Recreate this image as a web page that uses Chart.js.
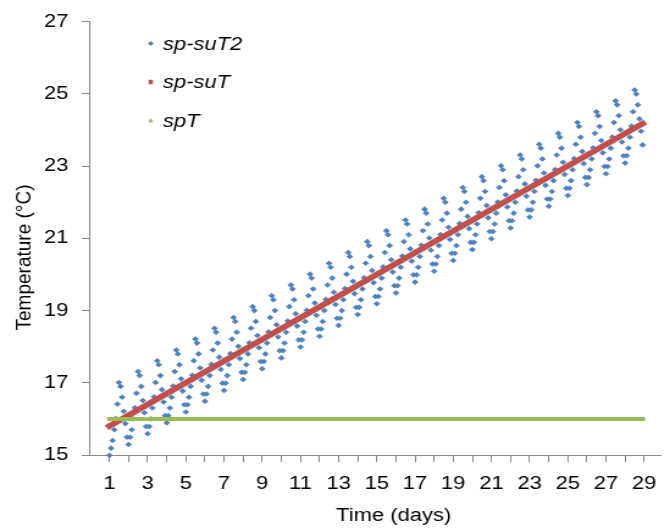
<!DOCTYPE html>
<html>
<head>
<meta charset="utf-8">
<script src="https://cdn.jsdelivr.net/npm/chart.js@4"></script>
<style>
  html, body { margin: 0; padding: 0; background: #fff; }
  canvas { display: block; }
</style>
</head>
<body>
<canvas id="myChart" width="549" height="528" style="width:670px;height:528px"></canvas>
<script>
// the original picture is stretched sideways, so the canvas is drawn narrow and widened by css
const stretch = 670 / 549;

const seriesNames = ['sp-suT2', 'sp-suT', 'spT'];
const xTitle = 'Time (days)';
const yTitle = 'Temperature (°C)';

// x ticks every day, label every second day
const xTicks = [1, 2, 3, 4, 5, 6, 7, 8, 9, 10, 11, 12, 13, 14, 15, 16, 17, 18, 19, 20, 21, 22, 23, 24, 25, 26, 27, 28, 29];

// sp-suT2: one reading every 2 hours from day 1, one row per day
const startDay = 1;
const samplesPerDay = 12;
const tempSuT2 = [
  14.99, 15.19, 15.40, 15.70, 16.01, 16.41, 17.01, 16.90, 16.60, 16.21, 15.87, 15.49,
  15.29, 15.49, 15.70, 16.00, 16.31, 16.71, 17.31, 17.20, 16.90, 16.51, 16.17, 15.79,
  15.59, 15.79, 16.00, 16.30, 16.61, 17.01, 17.61, 17.50, 17.20, 16.81, 16.47, 16.09,
  15.89, 16.09, 16.30, 16.60, 16.91, 17.31, 17.91, 17.80, 17.50, 17.11, 16.77, 16.39,
  16.19, 16.39, 16.60, 16.90, 17.21, 17.61, 18.21, 18.10, 17.80, 17.41, 17.07, 16.69,
  16.49, 16.69, 16.90, 17.20, 17.51, 17.91, 18.51, 18.40, 18.10, 17.71, 17.37, 16.99,
  16.79, 16.99, 17.20, 17.50, 17.81, 18.21, 18.81, 18.70, 18.40, 18.01, 17.67, 17.29,
  17.09, 17.29, 17.50, 17.80, 18.11, 18.51, 19.11, 19.00, 18.70, 18.31, 17.97, 17.59,
  17.39, 17.59, 17.80, 18.10, 18.41, 18.81, 19.41, 19.30, 19.00, 18.61, 18.27, 17.89,
  17.69, 17.89, 18.10, 18.40, 18.71, 19.11, 19.71, 19.60, 19.30, 18.91, 18.57, 18.19,
  17.99, 18.19, 18.40, 18.70, 19.01, 19.41, 20.01, 19.90, 19.60, 19.21, 18.87, 18.49,
  18.29, 18.49, 18.70, 19.00, 19.31, 19.71, 20.31, 20.20, 19.90, 19.51, 19.17, 18.79,
  18.59, 18.79, 19.00, 19.30, 19.61, 20.01, 20.61, 20.50, 20.20, 19.81, 19.47, 19.09,
  18.89, 19.09, 19.30, 19.60, 19.91, 20.31, 20.91, 20.80, 20.50, 20.11, 19.77, 19.39,
  19.19, 19.39, 19.60, 19.90, 20.21, 20.61, 21.21, 21.10, 20.80, 20.41, 20.07, 19.69,
  19.49, 19.69, 19.90, 20.20, 20.51, 20.91, 21.51, 21.40, 21.10, 20.71, 20.37, 19.99,
  19.79, 19.99, 20.20, 20.50, 20.81, 21.21, 21.81, 21.70, 21.40, 21.01, 20.67, 20.29,
  20.09, 20.29, 20.50, 20.80, 21.11, 21.51, 22.11, 22.00, 21.70, 21.31, 20.97, 20.59,
  20.39, 20.59, 20.80, 21.10, 21.41, 21.81, 22.41, 22.30, 22.00, 21.61, 21.27, 20.89,
  20.69, 20.89, 21.10, 21.40, 21.71, 22.11, 22.71, 22.60, 22.30, 21.91, 21.57, 21.19,
  20.99, 21.19, 21.40, 21.70, 22.01, 22.41, 23.01, 22.90, 22.60, 22.21, 21.87, 21.49,
  21.29, 21.49, 21.70, 22.00, 22.31, 22.71, 23.31, 23.20, 22.90, 22.51, 22.17, 21.79,
  21.59, 21.79, 22.00, 22.30, 22.61, 23.01, 23.61, 23.50, 23.20, 22.81, 22.47, 22.09,
  21.89, 22.09, 22.30, 22.60, 22.91, 23.31, 23.91, 23.80, 23.50, 23.11, 22.77, 22.39,
  22.19, 22.39, 22.60, 22.90, 23.21, 23.61, 24.21, 24.10, 23.80, 23.41, 23.07, 22.69,
  22.49, 22.69, 22.90, 23.20, 23.51, 23.91, 24.51, 24.40, 24.10, 23.71, 23.37, 22.99,
  22.79, 22.99, 23.20, 23.50, 23.81, 24.21, 24.81, 24.70, 24.40, 24.01, 23.67, 23.29,
  23.09, 23.29, 23.50, 23.80, 24.11, 24.51, 25.11, 25.00, 24.70, 24.31, 23.97, 23.59
];
const times = tempSuT2.map((_, i) => startDay + i / samplesPerDay);

// sp-suT and spT are straight runs over the same period: first and last reading
const lineDays = [times[0], times[times.length - 1]];
const tempSuT = [15.8, 24.18];
const tempT = [16.0, 16.0];

const toPoints = (xs, ys) => ys.map((y, i) => ({x: xs[i], y: y}));

const colors = ['#4F81BD', '#C0504D', '#9BBB59'];
const font = '"Liberation Sans", Arial, sans-serif';
const axisGrey = '#868686';

// axis titles and the legend sit at fixed places in the picture
const extras = {
  id: 'extras',
  afterDraw(chart) {
    const ctx = chart.ctx;
    ctx.save();
    ctx.fillStyle = '#000';
    ctx.textBaseline = 'middle';
    ctx.textAlign = 'center';
    ctx.font = '18px ' + font;
    ctx.fillText(xTitle, 322.5, 516);

    ctx.save();
    ctx.translate(20.5, 257.5);
    ctx.scale(1 / stretch, 1);
    ctx.rotate(-Math.PI / 2);
    ctx.font = '19px ' + font;
    ctx.fillText(yTitle, 0, 0);
    ctx.restore();

    const rows = [49.5, 88, 126.5];
    ctx.textAlign = 'left';
    ctx.textBaseline = 'alphabetic';
    ctx.font = 'italic 18px ' + font;
    seriesNames.forEach((name, i) => {
      const x = 123.5, y = rows[i] - 6;
      ctx.fillStyle = colors[i];
      ctx.beginPath();
      if (i === 0) {
        ctx.moveTo(x, y - 2.6); ctx.lineTo(x + 2.4, y); ctx.lineTo(x, y + 2.6); ctx.lineTo(x - 2.4, y);
      } else if (i === 1) {
        ctx.rect(x - 1.8, y - 2.2, 3.6, 4.4);
      } else {
        ctx.moveTo(x, y - 2.6); ctx.lineTo(x + 2.2, y + 1.8); ctx.lineTo(x - 2.2, y + 1.8);
      }
      ctx.closePath();
      ctx.fill();
      ctx.fillStyle = '#000';
      ctx.fillText(name, 133.5, rows[i]);
    });
    ctx.restore();
  }
};

const ctx = document.getElementById('myChart').getContext('2d');

const myChart = new Chart(ctx, {
  type: 'scatter',
  data: {
    datasets: [{
      label: seriesNames[0],
      data: toPoints(times, tempSuT2),
      pointStyle: 'rectRot',
      pointRadius: 2.8,
      pointBorderWidth: 0,
      backgroundColor: colors[0],
      borderColor: colors[0],
      clip: false,
      order: 3
    }, {
      label: seriesNames[1],
      data: toPoints(lineDays, tempSuT),
      showLine: true,
      pointRadius: 0,
      borderColor: colors[1],
      backgroundColor: colors[1],
      borderWidth: 5.5,
      borderCapStyle: 'square',
      clip: false,
      order: 2
    }, {
      label: seriesNames[2],
      data: toPoints(lineDays, tempT),
      showLine: true,
      pointRadius: 0,
      borderColor: colors[2],
      backgroundColor: colors[2],
      borderWidth: 4,
      borderCapStyle: 'square',
      clip: false,
      order: 1
    }]
  },
  options: {
    responsive: false,
    devicePixelRatio: 1,
    animation: false,
    events: [],
    layout: {
      padding: {top: 20, right: 0, bottom: 0, left: 0}
    },
    scales: {
      x: {
        type: 'linear',
        min: -0.065,
        max: 29.902,
        afterBuildTicks: axis => { axis.ticks = xTicks.map(v => ({value: v})); },
        afterFit: scale => { scale.height = 73; },
        grid: {
          drawOnChartArea: false,
          drawTicks: true,
          tickLength: 7,
          color: axisGrey
        },
        border: {color: axisGrey, width: 1},
        ticks: {
          autoSkip: false,
          maxRotation: 0,
          padding: 11,
          color: '#000',
          font: {size: 18, family: font},
          callback: value => (value % 2 === 1 ? value : '')
        }
      },
      y: {
        min: 15,
        max: 27,
        afterFit: scale => { scale.width = 73; },
        grid: {
          drawOnChartArea: false,
          drawTicks: true,
          tickLength: 6,
          color: axisGrey
        },
        border: {color: axisGrey, width: 1},
        ticks: {
          stepSize: 2,
          padding: 11,
          color: '#000',
          font: {size: 18, family: font}
        }
      }
    },
    plugins: {
      legend: {display: false},
      tooltip: {enabled: false}
    }
  },
  plugins: [extras]
});
</script>
</body>
</html>
